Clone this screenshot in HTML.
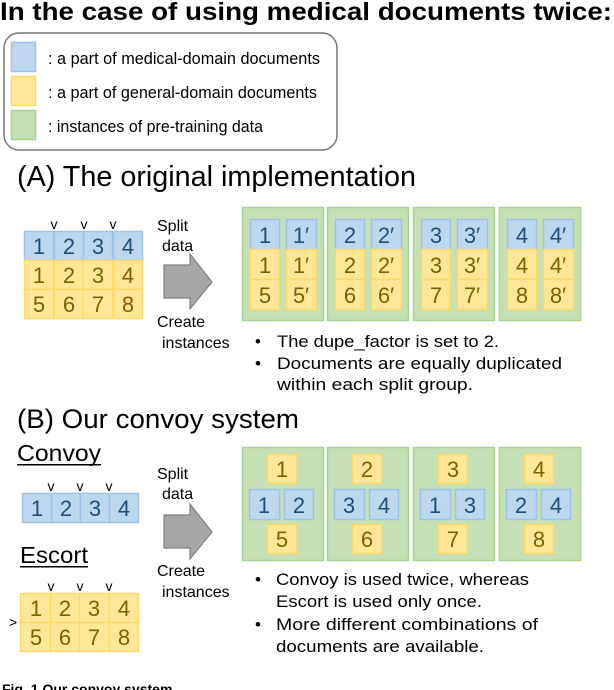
<!DOCTYPE html>
<html><head><meta charset="utf-8"><style>
html,body{margin:0;padding:0;background:#fff;width:614px;height:690px;overflow:hidden}
svg{display:block}
text{font-family:"Liberation Sans",sans-serif}
.b{fill:#bdd7ee;stroke:#9dc3e6;stroke-width:1.5}
.y{fill:#ffe699;stroke:#ffd966;stroke-width:1.5}
.g{fill:#c5e0b4;stroke:#a9d18e;stroke-width:1.5}
.nb{fill:#1f4e79;font-size:22px;text-anchor:middle}
.ny{fill:#7f6000;font-size:22px;text-anchor:middle}
.t{font-size:17px;fill:#000}
.s{font-size:16px;fill:#000}
.v{font-size:14px;fill:#000;text-anchor:middle}
</style></head><body>
<svg width="614" height="690" viewBox="0 0 614 690" xmlns="http://www.w3.org/2000/svg">
<text x="0" y="20" font-size="25" font-weight="bold" textLength="612" lengthAdjust="spacingAndGlyphs">In the case of using medical documents twice:</text>
<rect x="4" y="33" width="333" height="117" rx="15" fill="#fff" stroke="#777" stroke-width="1.5"/>
<rect x="11.5" y="42.5" width="24" height="29" class="b"/>
<rect x="11.5" y="76.5" width="24" height="29" class="y"/>
<rect x="11.5" y="110.5" width="24" height="29" class="g"/>
<text x="48" y="64" class="t" textLength="272" lengthAdjust="spacingAndGlyphs">: a part of medical-domain documents</text>
<text x="48" y="98" class="t" textLength="269" lengthAdjust="spacingAndGlyphs">: a part of general-domain documents</text>
<text x="48" y="132" class="t" textLength="215" lengthAdjust="spacingAndGlyphs">: instances of pre-training data</text>

<text x="17" y="186" font-size="29" textLength="399" lengthAdjust="spacingAndGlyphs">(A) The original implementation</text>

<!-- A grid -->
<g>
<rect x="24.5" y="231.5" width="29" height="29" class="b"/><rect x="54.5" y="231.5" width="29" height="29" class="b"/><rect x="83.5" y="231.5" width="29" height="29" class="b"/><rect x="113.5" y="231.5" width="29" height="29" class="b"/>
<rect x="24.5" y="260.5" width="29" height="29" class="y"/><rect x="54.5" y="260.5" width="29" height="29" class="y"/><rect x="83.5" y="260.5" width="29" height="29" class="y"/><rect x="113.5" y="260.5" width="29" height="29" class="y"/>
<rect x="24.5" y="289.5" width="29" height="29" class="y"/><rect x="54.5" y="289.5" width="29" height="29" class="y"/><rect x="83.5" y="289.5" width="29" height="29" class="y"/><rect x="113.5" y="289.5" width="29" height="29" class="y"/>
<text x="39" y="254" class="nb">1</text><text x="69" y="254" class="nb">2</text><text x="98" y="254" class="nb">3</text><text x="128" y="254" class="nb">4</text>
<text x="39" y="283" class="ny">1</text><text x="69" y="283" class="ny">2</text><text x="98" y="283" class="ny">3</text><text x="128" y="283" class="ny">4</text>
<text x="39" y="312" class="ny">5</text><text x="69" y="312" class="ny">6</text><text x="98" y="312" class="ny">7</text><text x="128" y="312" class="ny">8</text>
<text x="54" y="229" class="v">v</text><text x="84" y="229" class="v">v</text><text x="113" y="229" class="v">v</text>
</g>
<polygon points="164,265 190,265 190,254 212,282 190,309 190,298 164,298" fill="#a6a6a6" stroke="#7f7f7f" stroke-width="1.2"/>
<text x="157" y="231" class="s">Split</text><text x="162" y="251" class="s">data</text>
<text x="157" y="327" class="s">Create</text><text x="162" y="348" class="s">instances</text>

<!-- A green boxes -->
<g>
<rect x="242.5" y="207.5" width="81" height="113" class="g"/>
<rect x="327.5" y="207.5" width="81" height="113" class="g"/>
<rect x="413.5" y="207.5" width="81" height="113" class="g"/>
<rect x="499.5" y="207.5" width="81" height="113" class="g"/>
</g>
<g>
<!-- box 1 -->
<rect x="250.5" y="219.5" width="29" height="30" class="b"/><rect x="286.5" y="219.5" width="30" height="30" class="b"/>
<rect x="250.5" y="249.5" width="29" height="30" class="y"/><rect x="286.5" y="249.5" width="30" height="30" class="y"/>
<rect x="250.5" y="279.5" width="29" height="30" class="y"/><rect x="286.5" y="279.5" width="30" height="30" class="y"/>
<text x="265" y="243" class="nb">1</text><text x="301" y="243" class="nb">1′</text>
<text x="265" y="273" class="ny">1</text><text x="301" y="273" class="ny">1′</text>
<text x="265" y="303" class="ny">5</text><text x="301" y="303" class="ny">5′</text>
<!-- box 2 -->
<rect x="335.5" y="219.5" width="29" height="30" class="b"/><rect x="371.5" y="219.5" width="30" height="30" class="b"/>
<rect x="335.5" y="249.5" width="29" height="30" class="y"/><rect x="371.5" y="249.5" width="30" height="30" class="y"/>
<rect x="335.5" y="279.5" width="29" height="30" class="y"/><rect x="371.5" y="279.5" width="30" height="30" class="y"/>
<text x="350" y="243" class="nb">2</text><text x="386" y="243" class="nb">2′</text>
<text x="350" y="273" class="ny">2</text><text x="386" y="273" class="ny">2′</text>
<text x="350" y="303" class="ny">6</text><text x="386" y="303" class="ny">6′</text>
<!-- box 3 -->
<rect x="421.5" y="219.5" width="29" height="30" class="b"/><rect x="457.5" y="219.5" width="30" height="30" class="b"/>
<rect x="421.5" y="249.5" width="29" height="30" class="y"/><rect x="457.5" y="249.5" width="30" height="30" class="y"/>
<rect x="421.5" y="279.5" width="29" height="30" class="y"/><rect x="457.5" y="279.5" width="30" height="30" class="y"/>
<text x="436" y="243" class="nb">3</text><text x="472" y="243" class="nb">3′</text>
<text x="436" y="273" class="ny">3</text><text x="472" y="273" class="ny">3′</text>
<text x="436" y="303" class="ny">7</text><text x="472" y="303" class="ny">7′</text>
<!-- box 4 -->
<rect x="507.5" y="219.5" width="29" height="30" class="b"/><rect x="543.5" y="219.5" width="30" height="30" class="b"/>
<rect x="507.5" y="249.5" width="29" height="30" class="y"/><rect x="543.5" y="249.5" width="30" height="30" class="y"/>
<rect x="507.5" y="279.5" width="29" height="30" class="y"/><rect x="543.5" y="279.5" width="30" height="30" class="y"/>
<text x="522" y="243" class="nb">4</text><text x="558" y="243" class="nb">4′</text>
<text x="522" y="273" class="ny">4</text><text x="558" y="273" class="ny">4′</text>
<text x="522" y="303" class="ny">8</text><text x="558" y="303" class="ny">8′</text>
</g>
<text x="255" y="347" class="t">•</text><text x="277" y="347" class="t" textLength="222" lengthAdjust="spacingAndGlyphs">The dupe_factor is set to 2.</text>
<text x="255" y="369" class="t">•</text><text x="277" y="369" class="t" textLength="285" lengthAdjust="spacingAndGlyphs">Documents are equally duplicated</text>
<text x="277" y="390" class="t" textLength="196" lengthAdjust="spacingAndGlyphs">within each split group.</text>

<!-- B -->
<text x="17" y="428" font-size="27" textLength="282" lengthAdjust="spacingAndGlyphs">(B) Our convoy system</text>
<text x="17" y="461" font-size="23" textLength="84" lengthAdjust="spacingAndGlyphs">Convoy</text>
<rect x="17" y="464" width="84" height="1.5" fill="#000"/>
<text x="20" y="563" font-size="23" textLength="68" lengthAdjust="spacingAndGlyphs">Escort</text>
<rect x="20" y="566" width="68" height="1.5" fill="#000"/>

<rect x="22.5" y="493.5" width="29" height="29" class="b"/><rect x="51.5" y="493.5" width="29" height="29" class="b"/><rect x="80.5" y="493.5" width="29" height="29" class="b"/><rect x="109.5" y="493.5" width="29" height="29" class="b"/>
<text x="37" y="516" class="nb">1</text><text x="66" y="516" class="nb">2</text><text x="95" y="516" class="nb">3</text><text x="124" y="516" class="nb">4</text>
<text x="51" y="491" class="v">v</text><text x="80" y="491" class="v">v</text><text x="109" y="491" class="v">v</text>

<rect x="20.5" y="593.5" width="30" height="29" class="y"/><rect x="50.5" y="593.5" width="29" height="29" class="y"/><rect x="79.5" y="593.5" width="30" height="29" class="y"/><rect x="109.5" y="593.5" width="29" height="29" class="y"/>
<rect x="20.5" y="622.5" width="30" height="29" class="y"/><rect x="50.5" y="622.5" width="29" height="29" class="y"/><rect x="79.5" y="622.5" width="30" height="29" class="y"/><rect x="109.5" y="622.5" width="29" height="29" class="y"/>
<text x="36" y="616" class="ny">1</text><text x="65" y="616" class="ny">2</text><text x="94" y="616" class="ny">3</text><text x="124" y="616" class="ny">4</text>
<text x="36" y="645" class="ny">5</text><text x="65" y="645" class="ny">6</text><text x="94" y="645" class="ny">7</text><text x="124" y="645" class="ny">8</text>
<text x="51" y="591" class="v">v</text><text x="80" y="591" class="v">v</text><text x="109" y="591" class="v">v</text>
<text x="9" y="627" font-size="14">&gt;</text>

<polygon points="164,515 190,515 190,504 212,532 190,559 190,548 164,548" fill="#a6a6a6" stroke="#7f7f7f" stroke-width="1.2"/>
<text x="157" y="479" class="s">Split</text><text x="162" y="499" class="s">data</text>
<text x="157" y="576" class="s">Create</text><text x="162" y="597" class="s">instances</text>

<g>
<rect x="242.5" y="447.5" width="81" height="113" class="g"/>
<rect x="327.5" y="447.5" width="81" height="113" class="g"/>
<rect x="413.5" y="447.5" width="81" height="113" class="g"/>
<rect x="499.5" y="447.5" width="81" height="113" class="g"/>
</g>
<g>
<rect x="267.5" y="454.5" width="29" height="29" class="y"/><rect x="249.5" y="489.5" width="30" height="30" class="b"/><rect x="284.5" y="489.5" width="29" height="30" class="b"/><rect x="267.5" y="524.5" width="29" height="29" class="y"/>
<text x="282" y="477" class="ny">1</text><text x="264" y="513" class="nb">1</text><text x="299" y="513" class="nb">2</text><text x="282" y="547" class="ny">5</text>

<rect x="352.5" y="454.5" width="29" height="29" class="y"/><rect x="334.5" y="489.5" width="30" height="30" class="b"/><rect x="369.5" y="489.5" width="29" height="30" class="b"/><rect x="352.5" y="524.5" width="29" height="29" class="y"/>
<text x="367" y="477" class="ny">2</text><text x="349" y="513" class="nb">3</text><text x="384" y="513" class="nb">4</text><text x="367" y="547" class="ny">6</text>

<rect x="438.5" y="454.5" width="29" height="29" class="y"/><rect x="420.5" y="489.5" width="30" height="30" class="b"/><rect x="455.5" y="489.5" width="29" height="30" class="b"/><rect x="438.5" y="524.5" width="29" height="29" class="y"/>
<text x="453" y="477" class="ny">3</text><text x="435" y="513" class="nb">1</text><text x="470" y="513" class="nb">3</text><text x="453" y="547" class="ny">7</text>

<rect x="524.5" y="454.5" width="29" height="29" class="y"/><rect x="506.5" y="489.5" width="30" height="30" class="b"/><rect x="541.5" y="489.5" width="29" height="30" class="b"/><rect x="524.5" y="524.5" width="29" height="29" class="y"/>
<text x="539" y="477" class="ny">4</text><text x="521" y="513" class="nb">2</text><text x="556" y="513" class="nb">4</text><text x="539" y="547" class="ny">8</text>
</g>
<text x="255" y="585" class="t">•</text><text x="276" y="585" class="t" textLength="253" lengthAdjust="spacingAndGlyphs">Convoy is used twice, whereas</text>
<text x="276" y="607" class="t" textLength="206" lengthAdjust="spacingAndGlyphs">Escort is used only once.</text>
<text x="255" y="630" class="t">•</text><text x="276" y="630" class="t" textLength="262" lengthAdjust="spacingAndGlyphs">More different combinations of</text>
<text x="276" y="652" class="t" textLength="208" lengthAdjust="spacingAndGlyphs">documents are available.</text>

<text x="2" y="694" font-family="Liberation Serif, serif" font-size="14" font-weight="bold">Fig. 1 Our convoy system</text>
</svg>
</body></html>
